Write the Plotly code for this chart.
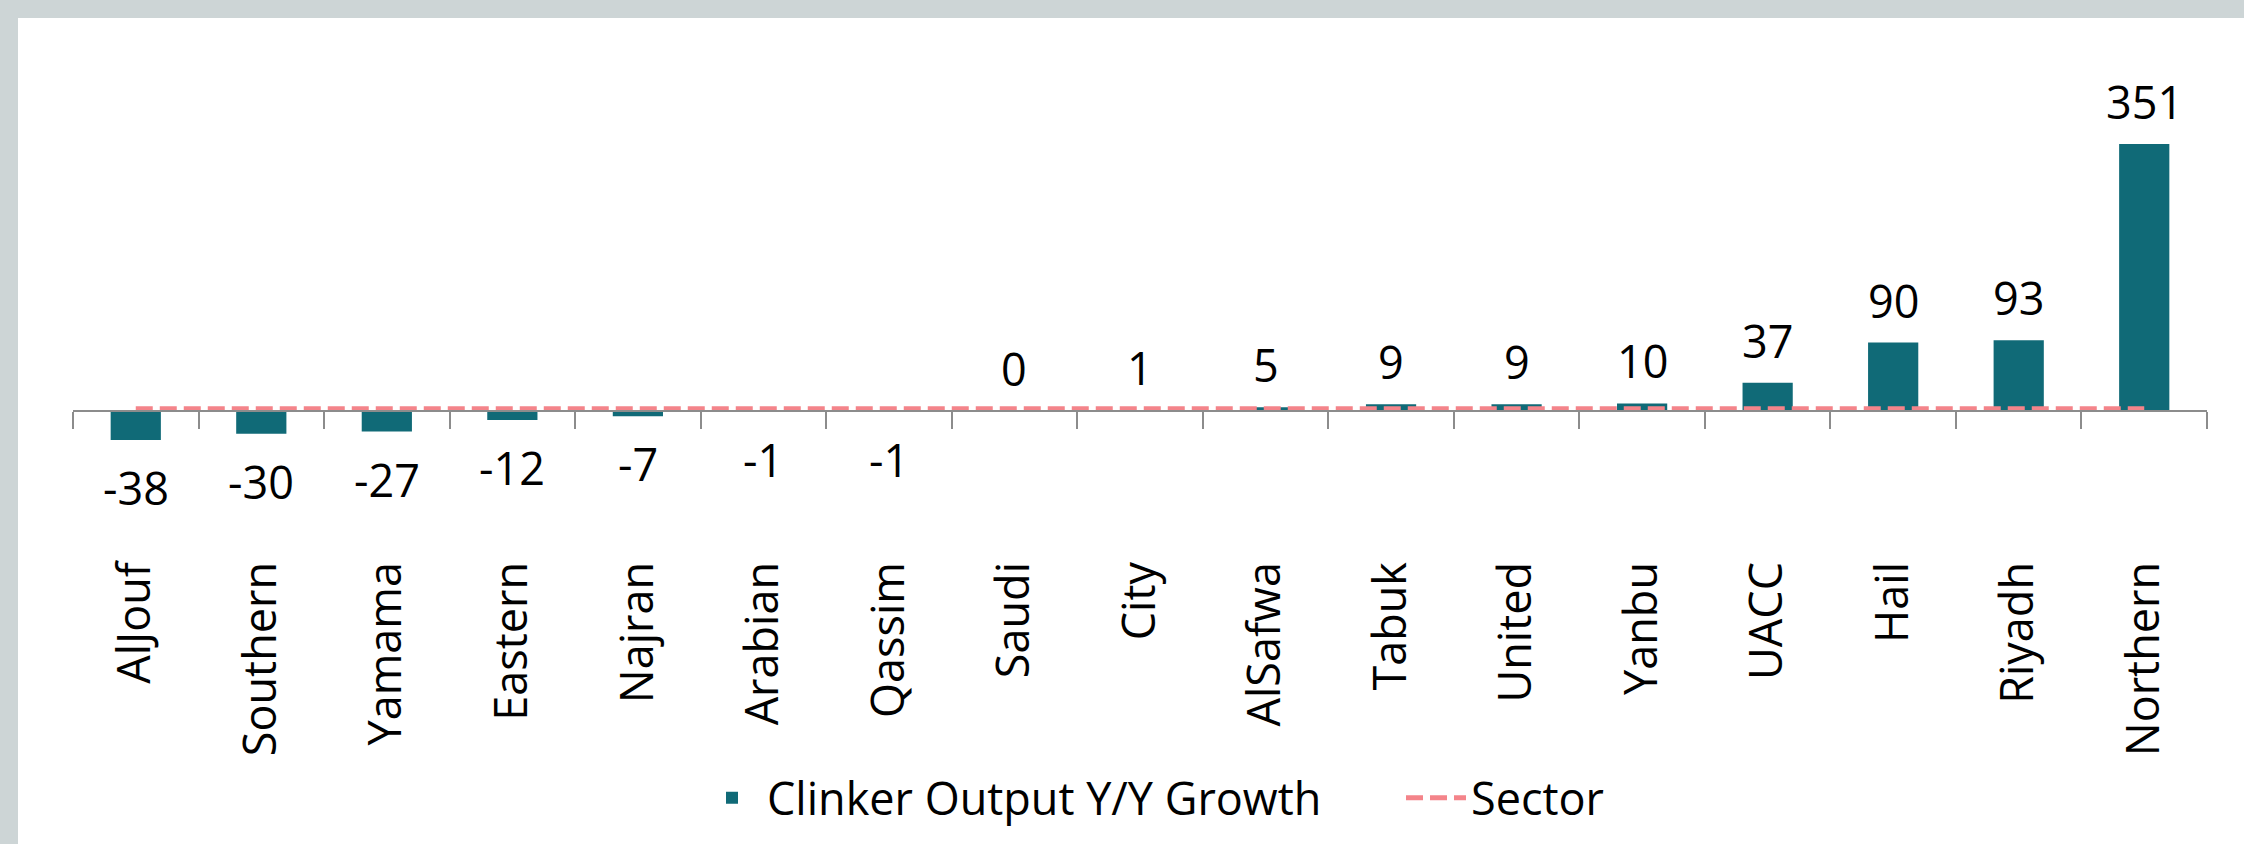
import plotly.graph_objects as go

categories = ["AlJouf", "Southern", "Yamama", "Eastern", "Najran", "Arabian", "Qassim",
              "Saudi", "City", "AlSafwa", "Tabuk", "United", "Yanbu", "UACC", "Hail",
              "Riyadh", "Northern"]
growth = [-38, -30, -27, -12, -7, -1, -1, 0, 1, 5, 9, 9, 10, 37, 90, 93, 351]
sector = [3] * len(categories)

W, H = 2244, 844
L, R = 73, 2207          # plot area left/right px
T, B = 60, 553           # plot area top/bottom px
ZERO_PX = 411.7
PX_PER_UNIT = 0.762
ymin = -(B - ZERO_PX) / PX_PER_UNIT
ymax = (ZERO_PX - T) / PX_PER_UNIT

FONT = "Open Sans"
FS = 45
BAR_COLOR = "#106A77"
SECTOR_COLOR = "#F4848A"
AXIS_COLOR = "#8C8C8C"

fig = go.Figure()
fig.add_trace(go.Bar(
    x=categories, y=growth, name="Clinker Output Y/Y Growth",
    marker=dict(color=BAR_COLOR, line=dict(width=0)), width=0.4,
    xaxis="x", yaxis="y",
))
fig.add_trace(go.Scatter(
    x=categories, y=sector, name="Sector", mode="lines",
    line=dict(color=SECTOR_COLOR, width=5, dash="17px,7px"),
    xaxis="x2", yaxis="y",
))

annotations = []
for c, v in zip(categories, growth):
    if v >= 0:
        annotations.append(dict(x=c, y=v, xref="x", yref="y", text=str(v), showarrow=False,
                                yanchor="bottom", yshift=10,
                                font=dict(family=FONT, size=FS, color="black")))
    else:
        annotations.append(dict(x=c, y=v, xref="x", yref="y", text=str(v), showarrow=False,
                                yanchor="top", yshift=-15,
                                font=dict(family=FONT, size=FS, color="black")))

pw, ph = R - L, B - T
fig.update_layout(
    width=W, height=H,
    margin=dict(l=L, r=W - R, t=T, b=H - B, pad=0),
    paper_bgcolor="#CDD5D6",
    plot_bgcolor="rgba(0,0,0,0)",
    font=dict(family=FONT, size=FS, color="black"),
    showlegend=True,
    legend=dict(orientation="h", x=(697 - L) / pw, xanchor="left", y=(B - 798) / ph,
                yanchor="middle", entrywidth=629, entrywidthmode="pixels",
                font=dict(family=FONT, size=FS, color="black"), bgcolor="rgba(0,0,0,0)",
                itemwidth=60, tracegroupgap=0),
    xaxis=dict(type="category", categoryorder="array", categoryarray=categories,
               range=[-0.5, len(categories) - 0.5], showline=False, showgrid=False,
               zeroline=False, ticks="", tickangle=-90,
               tickfont=dict(family=FONT, size=FS, color="black")),
    xaxis2=dict(type="category", categoryorder="array", categoryarray=categories,
                range=[-0.5, len(categories) - 0.5], overlaying="x", anchor="free",
                position=(B - ZERO_PX) / ph, side="bottom",
                showline=True, linecolor=AXIS_COLOR, linewidth=2,
                ticks="outside", tickson="boundaries", ticklen=17, tickwidth=2,
                tickcolor=AXIS_COLOR, showticklabels=False, showgrid=False, zeroline=False),
    yaxis=dict(range=[ymin, ymax], visible=False, showgrid=False, zeroline=False),
    annotations=annotations,
    shapes=[dict(type="rect", xref="paper", yref="paper",
                 x0=(18 - L) / pw, x1=(W + 5 - L) / pw,
                 y0=(B - H - 5) / ph, y1=(B - 18) / ph,
                 fillcolor="white", line=dict(width=0), layer="below")],
)

fig.write_html("out.html")
